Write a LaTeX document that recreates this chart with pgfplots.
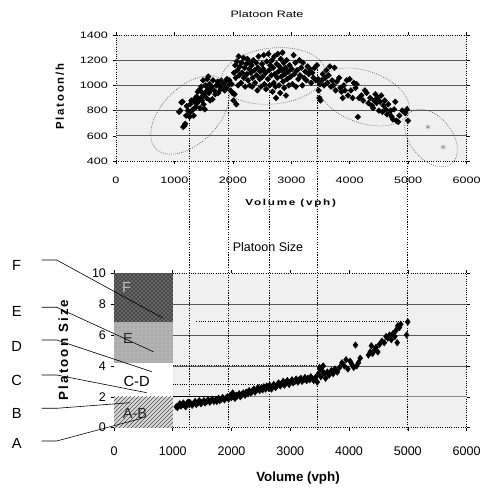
\documentclass[border=0pt]{standalone}
\usepackage{fontspec}
\setmainfont{Liberation Sans}
\newfontfamily\topfont[FakeStretch=1.35]{Liberation Sans}
\newfontfamily\topls[FakeStretch=1.35,LetterSpace=20]{Liberation Sans}
\newfontfamily\lsfont[LetterSpace=16]{Liberation Sans}
\usepackage{pgfplots}
\pgfplotsset{compat=1.18}
\usetikzlibrary{patterns}

\pgfplotsset{
  chart/.style={
    scale only axis, clip=false,
    xmin=0, xmax=6000, xtick={0,1000,...,6000},
    scaled ticks=false,
    /pgf/number format/1000 sep={},
    /pgf/number format/assume math mode=true,
    tick align=outside, major tick length=2.5pt,
    tick style={black, thin},
    axis line style={black, densely dotted, line width=0.7pt},
    axis background/.style={fill=black!6},
  },
}

\begin{document}
\begin{tikzpicture}
\useasboundingbox (0,0) rectangle (364.5pt,368.25pt);

% upper chart: platoon rate
\begin{axis}[chart,
  at={(87pt,247.5pt)}, anchor=south west,
  width=262.9pt, height=94.5pt,
  ymin=400, ymax=1400, ytick={400,600,...,1400},
  tick label style={font=\topfont\fontsize{7}{8}\selectfont},
  xticklabel style={yshift=-6pt},
]
\pgfplotsinvokeforeach{600,800,1000,1200}{
  \draw[black!65, line width=0.5pt] (axis cs:0,#1) -- (axis cs:6000,#1);
}
\addplot[only marks, mark=diamond*, mark size=2.1pt, mark options={xscale=1.3}] coordinates {
(1080,790)(1100,800)(1120,865)(1140,870)(1150,670)(1170,680)(1185,695)(1200,760)
(1210,835)(1230,800)(1250,780)(1260,750)(1270,850)(1290,880)(1300,800)
(1320,810)(1330,760)(1340,870)(1360,900)(1370,830)(1380,910)(1390,860)(1400,950)
(1420,880)(1430,965)(1440,820)(1450,900)(1460,990)(1470,880)(1480,940)(1490,1040)(1500,850)
(1510,920)(1520,810)(1530,1000)(1540,950)(1550,900)(1560,1050)(1570,980)(1580,1070)
(1590,940)(1600,1010)(1610,880)(1620,960)(1640,990)(1650,890)(1660,1040)(1680,960)
(1700,930)(1720,1000)(1740,1030)(1750,940)
(1770,1000)(1790,970)(1800,1040)(1820,990)(1840,1010)(1860,960)(1870,1030)(1890,980)
(1900,1050)(1920,1000)(1940,1040)(1960,960)(1980,1010)(2000,940)
(2010,880)(2020,1100)(2030,930)(2040,1160)(2050,1060)(2060,850)(2070,1190)(2080,1120)
(2090,1000)(2100,1230)(2110,1080)(2120,1150)(2140,1020)(2150,1180)(2160,1100)(2180,1220)
(2190,1060)(2200,1140)(2210,990)(2230,1170)(2240,1090)(2250,1210)(2260,1040)(2280,1130)
(2290,1000)(2300,1180)
(2310,1100)(2320,1160)(2330,990)(2340,1060)(2350,1200)(2370,1120)(2380,1020)(2400,1180)
(2410,1080)(2420,960)(2430,1140)(2440,1230)(2460,1050)(2470,1110)(2480,990)(2500,1170)
(2510,1070)(2520,1130)(2530,1240)(2540,1010)(2560,1100)(2570,970)(2580,1190)(2600,1050)
(2610,1250)(2620,1120)(2630,1000)(2640,1160)
(2660,1080)(2670,1200)(2680,950)(2690,1140)(2700,1020)(2710,1230)(2720,1090)(2730,990)
(2740,900)(2750,1170)(2760,1060)(2770,1250)(2780,1110)(2790,1000)(2800,1150)(2810,940)
(2820,1210)(2830,1070)(2840,1120)(2850,1260)(2860,1030)(2870,1180)(2880,980)(2890,1090)
(2900,1140)(2910,920)(2920,1200)(2930,1050)(2950,1110)(2960,1000)(2970,1160)(2990,1070)
(3010,1130)(3020,1010)(3040,1240)(3050,1090)(3070,1180)(3080,990)(3100,1120)(3120,1050)
(3140,1200)(3150,1080)(3170,1140)(3190,1000)(3200,1180)(3220,1060)(3240,1110)(3260,1040)
(3280,1150)(3300,1090)(3320,1130)(3340,1020)(3360,1100)(3380,1060)(3400,1140)(3420,1040)
(3440,1160)
(3460,1050)(3470,960)(3480,900)(3490,1010)(3500,880)(3520,1040)(3540,1090)(3560,1000)
(3580,1060)(3600,1120)(3620,1020)(3640,1080)(3660,1150)(3680,990)(3700,1040)(3720,1000)
(3740,1140)(3760,960)(3780,1030)
(3820,1060)(3840,980)(3860,950)(3880,900)(3900,1000)(3920,960)(3950,1040)(3970,920)
(4000,1050)(4020,960)(4050,900)(4070,1020)(4100,980)(4120,1010)(4140,750)(4160,900)
(4200,920)(4230,880)(4260,960)(4290,940)(4320,860)(4350,900)(4380,840)
(4400,820)(4420,880)(4440,930)(4460,860)(4480,900)(4500,800)(4520,870)(4540,920)
(4560,790)(4580,840)(4600,880)(4620,810)(4640,770)(4660,850)(4680,780)(4700,800)
(4720,750)(4740,730)(4760,810)(4780,870)(4800,720)(4830,710)(4850,760)(4900,800)
(4950,780)(4980,810)(5000,720)
};
\addplot[only marks, mark=asterisk, mark size=2pt, black!45] coordinates {(5340,670)(5600,510)};
\coordinate (t1) at (axis cs:1280,760);
\coordinate (t2) at (axis cs:1950,920);
\coordinate (t3) at (axis cs:2650,1280);
\coordinate (t4) at (axis cs:3460,1170);
\coordinate (t5) at (axis cs:5000,840);
\end{axis}

% lower chart: platoon size
\begin{axis}[chart,
  at={(85.5pt,47.5pt)}, anchor=south west,
  width=264.4pt, height=115.8pt,
  ymin=0, ymax=10, ytick={0,2,...,10},
  tick label style={font=\fontsize{9.4}{10}\selectfont},
  xticklabel style={yshift=-8pt},
]
\draw[black!45, line width=0.5pt] (axis cs:1000,2) -- (axis cs:6000,2);
\pgfplotsinvokeforeach{4,6,8}{
  \draw[black!65, line width=0.5pt] (axis cs:1000,#1) -- (axis cs:6000,#1);
}
\fill[black!58] (axis cs:0,6.85) rectangle (axis cs:1000,10);
\fill[pattern=crosshatch, pattern color=black!75] (axis cs:0,6.85) rectangle (axis cs:1000,10);
\fill[black!30] (axis cs:0,4.2) rectangle (axis cs:1000,6.85);
\fill[pattern=dots, pattern color=black!45] (axis cs:0,4.2) rectangle (axis cs:1000,6.85);
\fill[white] (axis cs:0,2) rectangle (axis cs:1000,4.2);
\fill[black!15] (axis cs:0,0) rectangle (axis cs:1000,2);
\fill[pattern=north east lines, pattern color=black!70] (axis cs:0,0) rectangle (axis cs:1000,2);
\node[font=\fontsize{11}{12}\selectfont, text=black!25] at (axis cs:215,9.1) {F};
\node[font=\fontsize{11}{12}\selectfont, text=black!85] at (axis cs:240,5.8) {E};
\node[font=\fontsize{11}{12}\selectfont] at (axis cs:385,3.0) {C-D};
\node[font=\fontsize{11}{12}\selectfont, text=black!85] at (axis cs:357,0.93) {A-B};
\draw[black, line width=0.6pt] (axis cs:1000,2) -- (axis cs:1950,2);
\draw[black, densely dotted, line width=0.7pt] (axis cs:1000,2.8) -- (axis cs:2650,2.8);
\draw[black, densely dotted, line width=0.7pt] (axis cs:1000,4) -- (axis cs:3460,4);
\draw[black, densely dotted, line width=0.7pt] (axis cs:1400,6.85) -- (axis cs:5000,6.85);
\addplot[only marks, mark=diamond*, mark size=2.4pt] coordinates {
(1060,1.35)(1080,1.3)(1100,1.45)(1120,1.55)(1140,1.4)(1160,1.5)(1180,1.6)(1200,1.45)
(1220,1.35)(1240,1.55)(1260,1.65)(1280,1.5)
(1300,1.6)(1330,1.45)(1350,1.55)(1380,1.7)(1400,1.5)(1430,1.6)(1450,1.75)(1480,1.55)
(1500,1.65)(1530,1.75)(1550,1.6)(1580,1.7)(1600,1.8)(1630,1.65)(1650,1.75)(1680,1.85)(1700,1.7)
(1730,1.8)(1750,1.7)(1780,1.9)(1800,1.75)(1830,1.85)(1850,1.95)(1880,1.8)(1900,1.9)
(1930,2.0)(1950,1.85)(1980,2.1)(2000,1.95)
(2020,2.25)(2040,2.0)(2060,1.9)(2080,2.1)(2100,2.05)(2130,2.2)(2150,2.0)(2180,2.15)
(2200,2.25)(2230,2.1)(2250,2.3)(2280,2.2)(2300,2.4)(2330,2.25)(2350,2.35)(2380,2.5)
(2400,2.3)(2430,2.45)(2450,2.6)(2480,2.4)(2500,2.55)(2530,2.45)(2550,2.65)(2580,2.5)
(2600,2.7)(2630,2.55)(2650,2.75)
(2680,2.5)(2700,2.65)(2720,2.8)(2750,2.6)(2780,2.75)(2800,2.9)(2830,2.7)(2850,2.85)
(2880,3.0)(2900,2.75)(2930,2.9)(2950,3.05)(2980,2.8)(3000,2.95)(3030,3.1)(3050,2.9)
(3080,3.0)(3100,3.15)(3130,2.95)(3150,3.1)(3180,3.2)(3200,3.0)(3230,3.1)(3250,3.25)
(3280,3.05)(3300,3.2)(3330,3.1)(3350,3.3)(3380,3.15)(3400,3.05)(3430,3.25)
(3460,2.95)(3480,3.5)(3500,3.9)(3520,3.3)(3540,3.7)(3560,4.0)(3580,3.5)(3600,3.2)
(3630,3.6)(3660,3.4)(3700,3.7)(3730,3.5)(3760,3.8)(3800,3.6)(3840,3.9)(3880,4.2)
(3920,4.0)(3950,4.4)(3980,3.8)(4020,4.3)(4050,4.1)(4080,3.9)(4110,5.35)(4130,4.0)
(4160,4.2)(4190,4.5)
(4330,4.7)(4360,4.9)(4380,5.3)(4400,4.8)(4430,5.0)(4460,5.2)(4490,4.9)(4520,5.4)
(4560,5.6)(4600,5.5)(4630,5.9)(4660,5.8)(4690,6.0)(4720,5.7)(4750,6.1)(4780,5.9)
(4800,6.3)(4820,5.5)(4830,6.6)(4860,6.5)(4880,6.7)(4980,6.0)(5000,6.85)
};
\coordinate (b1) at (axis cs:1280,0);
\coordinate (b2) at (axis cs:1950,0);
\coordinate (b3) at (axis cs:2650,0);
\coordinate (b4) at (axis cs:3460,0);
\coordinate (b5) at (axis cs:5000,0);
\end{axis}

% vertical lines linking the two charts
\foreach \i in {1,...,5} {
  \draw[black, densely dotted, line width=0.9pt] ([yshift=-2pt]b\i) -- (b\i |- t\i);
}

% annotations, in pixel units of the original picture
\begin{scope}[x=0.75pt, y=-0.75pt, yshift=368.25pt]
\tikzset{ell/.style={black!70, densely dotted, line width=0.5pt}}
\draw[ell, rotate around={45:(190,115)}] (190,115) ellipse [x radius=36pt, y radius=21pt];
\draw[ell, rotate around={6:(273.3,76)}] (273.3,76) ellipse [x radius=39pt, y radius=21pt];
\draw[ell, rotate around={-19:(364,97)}] (364,97) ellipse [x radius=35.25pt, y radius=19.5pt];
\draw[ell, rotate around={-51:(431,138)}] (431,138) ellipse [x radius=24.75pt, y radius=15.75pt];

\node[font=\topfont\fontsize{7}{8}\selectfont] at (267,14) {Platoon Rate};
\node[font=\topls\bfseries\fontsize{6.5}{8}\selectfont] at (290.7,203.3) {Volume (vph)};
\node[font=\lsfont\bfseries\fontsize{8.5}{10}\selectfont, rotate=90] at (60,96.7) {Platoon/h};
\node[font=\fontsize{9.4}{11}\selectfont] at (268,247) {Platoon Size};
\node[font=\bfseries\fontsize{10}{12}\selectfont] at (298,478.3) {Volume (vph)};
\node[font=\lsfont\bfseries\fontsize{10}{12}\selectfont, rotate=90] at (63.3,350) {Platoon Size};

\tikzset{lead/.style={black, line width=0.45pt}}
\draw[lead] (41.7,260) -- (56.7,260) -- (163.3,318.3);
\draw[lead] (41.7,307.3) -- (56.7,307.3) -- (153.3,351.7);
\draw[lead] (41.7,340) -- (56.7,340) -- (151.7,371.7);
\draw[lead] (41.7,375) -- (56.7,375) -- (146.7,392.7);
\draw[lead] (41.7,408.3) -- (56.7,408.3) -- (130,402.7);
\draw[lead] (41.7,441) -- (56.7,441) -- (141.7,418.3);
\foreach \l/\yy in {F/265,E/311.7,D/346.7,C/380,B/413.3,A/443} {
  \node[font=\fontsize{11}{12}\selectfont] at (16.7,\yy) {\l};
}
\end{scope}
\end{tikzpicture}
\end{document}
